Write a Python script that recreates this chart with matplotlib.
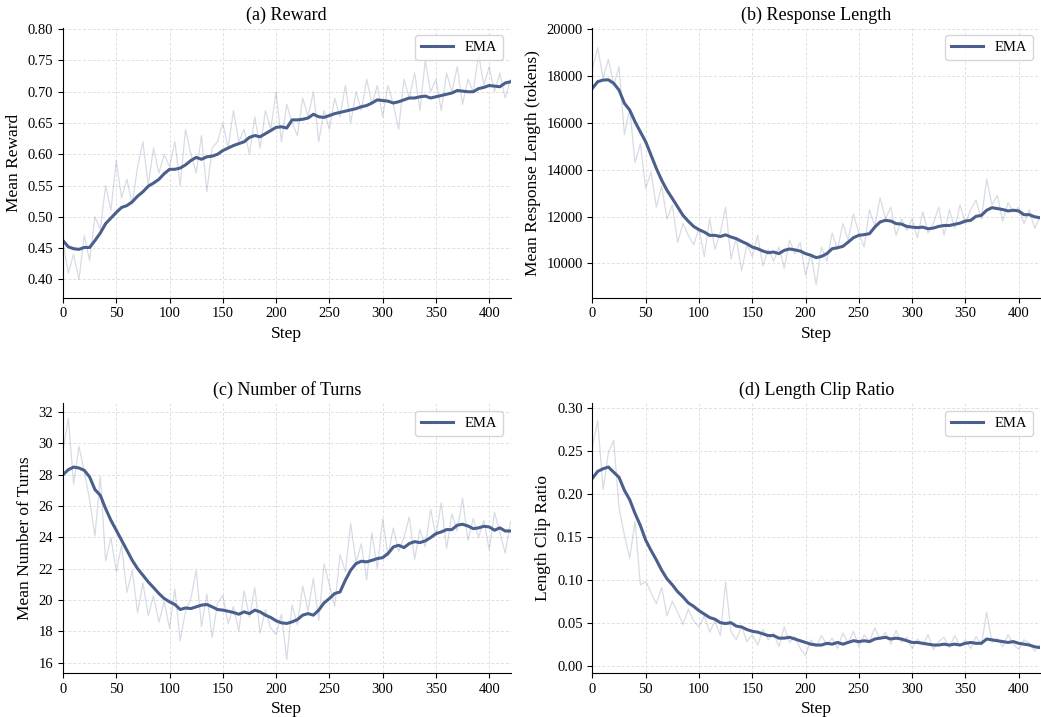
import numpy as np
import matplotlib
matplotlib.use("Agg")
import matplotlib.pyplot as plt

plt.rcParams['font.family'] = ['Liberation Serif', 'DejaVu Serif']

steps = np.arange(0, 421, 5)

# (a) reward
reward_raw = [
    0.46, 0.41, 0.44, 0.40, 0.47, 0.43, 0.50, 0.48, 0.55, 0.51,
    0.59, 0.53, 0.56, 0.52, 0.58, 0.62, 0.55, 0.61, 0.57, 0.60,
    0.58, 0.62, 0.55, 0.64, 0.60, 0.57, 0.63, 0.54, 0.61, 0.62,
    0.65, 0.61, 0.67, 0.62, 0.64, 0.60, 0.66, 0.61, 0.67, 0.64,
    0.70, 0.62, 0.68, 0.65, 0.63, 0.69, 0.66, 0.70, 0.62, 0.67,
    0.64, 0.69, 0.66, 0.71, 0.65, 0.70, 0.67, 0.72, 0.68, 0.71,
    0.66, 0.71, 0.68, 0.64, 0.72, 0.69, 0.73, 0.67, 0.75, 0.70,
    0.72, 0.67, 0.73, 0.70, 0.74, 0.68, 0.72, 0.70, 0.76, 0.71,
    0.74, 0.70, 0.73, 0.69, 0.72,
]
reward_ema = [
    0.462, 0.452, 0.449, 0.448, 0.451, 0.451, 0.462, 0.474, 0.489, 0.498,
    0.507, 0.515, 0.518, 0.524, 0.533, 0.540, 0.549, 0.554, 0.560, 0.569,
    0.576, 0.576, 0.578, 0.583, 0.590, 0.595, 0.592, 0.596, 0.597, 0.600,
    0.606, 0.610, 0.614, 0.617, 0.620, 0.627, 0.630, 0.628, 0.633, 0.638,
    0.643, 0.644, 0.642, 0.655, 0.655, 0.656, 0.658, 0.664, 0.660, 0.659,
    0.662, 0.665, 0.667, 0.669, 0.671, 0.673, 0.676, 0.678, 0.682, 0.687,
    0.686, 0.685, 0.682, 0.684, 0.687, 0.690, 0.690, 0.692, 0.693, 0.690,
    0.692, 0.694, 0.696, 0.698, 0.702, 0.701, 0.700, 0.700, 0.705, 0.707,
    0.710, 0.709, 0.708, 0.714, 0.716,
]

# (b) response length
length_raw = [
    18300, 19200, 17900, 18700, 17600, 18400, 15500, 16600, 14300, 15100,
    13200, 13900, 12400, 13300, 11900, 12500, 10900, 11700, 11200, 10800,
    11500, 10300, 11900, 10600, 11300, 12400, 10200, 11100, 9700, 10800,
    10300, 11200, 9900, 10600, 10100, 10700, 9800, 11000, 10400, 10900,
    9500, 10400, 9100, 10700, 10100, 11300, 10600, 11700, 11000, 12100,
    11300, 10700, 12300, 11600, 12800, 11900, 12400, 11200, 11900, 11400,
    11900, 11100, 12200, 11300, 11700, 12400, 11200, 12300, 11500, 12500,
    11700, 12300, 12700, 11900, 13600, 12500, 12900, 11800, 12600, 12200,
    12400, 11700, 12300, 11500, 12000,
]
length_ema = [
    17470, 17750, 17820, 17830, 17680, 17390, 16830, 16540, 16040, 15610,
    15190, 14620, 14050, 13550, 13120, 12770, 12410, 12050, 11800, 11580,
    11440, 11340, 11200, 11200, 11150, 11220, 11130, 11060, 10940, 10840,
    10700, 10630, 10530, 10460, 10490, 10420, 10560, 10620, 10580, 10530,
    10420, 10350, 10250, 10300, 10420, 10630, 10670, 10730, 10910, 11100,
    11200, 11230, 11270, 11550, 11770, 11840, 11810, 11700, 11680, 11580,
    11550, 11530, 11550, 11480, 11510, 11580, 11620, 11620, 11670, 11720,
    11810, 11840, 12010, 12050, 12270, 12380, 12340, 12300, 12240, 12270,
    12240, 12080, 12080, 11990, 11950,
]

# (c) number of turns
turns_raw = [
    29.5, 31.6, 27.4, 29.8, 28.2, 26.4, 24.1, 27.9, 22.5, 24.0,
    21.8, 23.5, 20.5, 21.9, 19.2, 21.1, 19.0, 20.3, 18.6, 19.9,
    18.2, 20.7, 17.4, 19.3, 20.1, 21.9, 18.3, 20.4, 17.6, 19.8,
    20.3, 18.5, 19.6, 18.0, 20.6, 18.9, 20.8, 17.9, 19.4, 18.2,
    17.8, 19.1, 16.2, 19.7, 18.4, 20.9, 19.3, 21.4, 18.7, 22.3,
    21.0, 19.6, 22.9, 21.8, 24.9, 22.4, 23.6, 21.3, 24.3, 22.0,
    25.2, 22.8, 24.6, 23.1, 24.0, 25.3, 22.6, 24.5, 23.4, 25.8,
    24.1, 26.2, 23.3, 25.5, 24.4, 26.5, 23.8, 25.2, 24.0, 25.1,
    23.2, 25.6, 24.3, 23.0, 25.0,
]
turns_ema = [
    28.00, 28.32, 28.49, 28.43, 28.28, 27.86, 27.05, 26.69, 25.84, 25.09,
    24.46, 23.82, 23.18, 22.54, 22.01, 21.59, 21.16, 20.80, 20.42, 20.10,
    19.89, 19.72, 19.40, 19.50, 19.46, 19.57, 19.68, 19.72, 19.57, 19.40,
    19.36, 19.29, 19.21, 19.10, 19.25, 19.14, 19.36, 19.25, 19.04, 18.89,
    18.68, 18.55, 18.51, 18.61, 18.76, 19.04, 19.14, 19.04, 19.36, 19.82,
    20.10, 20.42, 20.52, 21.27, 21.91, 22.33, 22.48, 22.44, 22.54, 22.65,
    22.71, 22.97, 23.39, 23.50, 23.35, 23.61, 23.73, 23.67, 23.78, 23.99,
    24.24, 24.35, 24.50, 24.50, 24.78, 24.84, 24.73, 24.56, 24.61, 24.71,
    24.67, 24.46, 24.61, 24.41, 24.41,
]

# (d) length clip ratio
clip_raw = [
    0.255, 0.285, 0.205, 0.248, 0.262, 0.183, 0.152, 0.125, 0.168, 0.094,
    0.098, 0.085, 0.072, 0.091, 0.058, 0.075, 0.062, 0.048, 0.066, 0.052,
    0.045, 0.058, 0.039, 0.052, 0.035, 0.097, 0.040, 0.030, 0.046, 0.028,
    0.036, 0.024, 0.042, 0.030, 0.038, 0.022, 0.045, 0.027, 0.034, 0.020,
    0.012, 0.030, 0.022, 0.035, 0.024, 0.032, 0.020, 0.038, 0.026, 0.040,
    0.022, 0.036, 0.028, 0.044, 0.030, 0.039, 0.025, 0.041, 0.027, 0.033,
    0.020, 0.031, 0.024, 0.036, 0.019, 0.028, 0.033, 0.021, 0.035, 0.023,
    0.030, 0.020, 0.034, 0.024, 0.062, 0.027, 0.032, 0.022, 0.036, 0.025,
    0.019, 0.030, 0.026, 0.017, 0.024,
]
clip_ema = [
    0.218, 0.226, 0.229, 0.231, 0.225, 0.219, 0.204, 0.193, 0.177, 0.163,
    0.146, 0.134, 0.123, 0.111, 0.101, 0.094, 0.086, 0.080, 0.073, 0.069,
    0.064, 0.060, 0.056, 0.054, 0.050, 0.049, 0.050, 0.046, 0.045, 0.042,
    0.040, 0.039, 0.037, 0.035, 0.035, 0.032, 0.032, 0.033, 0.031, 0.029,
    0.027, 0.025, 0.024, 0.024, 0.026, 0.025, 0.027, 0.025, 0.027, 0.029,
    0.028, 0.029, 0.028, 0.031, 0.032, 0.033, 0.031, 0.032, 0.031, 0.029,
    0.027, 0.027, 0.026, 0.025, 0.024, 0.024, 0.025, 0.024, 0.025, 0.024,
    0.026, 0.027, 0.026, 0.026, 0.031, 0.030, 0.029, 0.028, 0.027, 0.028,
    0.026, 0.025, 0.024, 0.022, 0.021,
]

panels = [
    ("(a) Reward", "Mean Reward", reward_raw, reward_ema,
     (0.371, 0.802), np.arange(0.40, 0.801, 0.05)),
    ("(b) Response Length", "Mean Response Length (tokens)", length_raw, length_ema,
     (8550, 20040), np.arange(10000, 20001, 2000)),
    ("(c) Number of Turns", "Mean Number of Turns", turns_raw, turns_ema,
     (15.35, 32.55), np.arange(16, 33, 2)),
    ("(d) Length Clip Ratio", "Length Clip Ratio", clip_raw, clip_ema,
     (-0.0085, 0.305), np.arange(0.0, 0.301, 0.05)),
]

color = "#4a5f8c"

fig, axes = plt.subplots(2, 2, figsize=(10.41, 7.17), dpi=100)
fig.subplots_adjust(left=0.0605, right=0.999, top=0.961, bottom=0.0614,
                    wspace=0.183, hspace=0.393)

for ax, (title, ylabel, raw, ema, ylim, yticks) in zip(axes.flat, panels):
    ax.plot(steps, raw, color=color, alpha=0.22, linewidth=0.9)
    ax.plot(steps, ema, color=color, linewidth=2.2, label="EMA")
    ax.set_title(title, fontsize=13)
    ax.set_xlabel("Step", fontsize=12.5)
    ax.set_ylabel(ylabel, fontsize=12.5)
    ax.set_xlim(0, 420)
    ax.set_ylim(*ylim)
    ax.set_xticks(np.arange(0, 401, 50))
    ax.set_yticks(yticks)
    if ylim[1] < 1:
        ax.yaxis.set_major_formatter(matplotlib.ticker.FormatStrFormatter('%.2f'))
    ax.tick_params(labelsize=10.5)
    ax.grid(True, linestyle=(0, (3, 2)), color='#e0e0e0', linewidth=0.7)
    ax.set_axisbelow(True)
    ax.spines['top'].set_visible(False)
    ax.spines['right'].set_visible(False)
    ax.legend(loc='upper right', fontsize=10.5, handlelength=2.2)

fig.savefig("out.png", dpi=100)
